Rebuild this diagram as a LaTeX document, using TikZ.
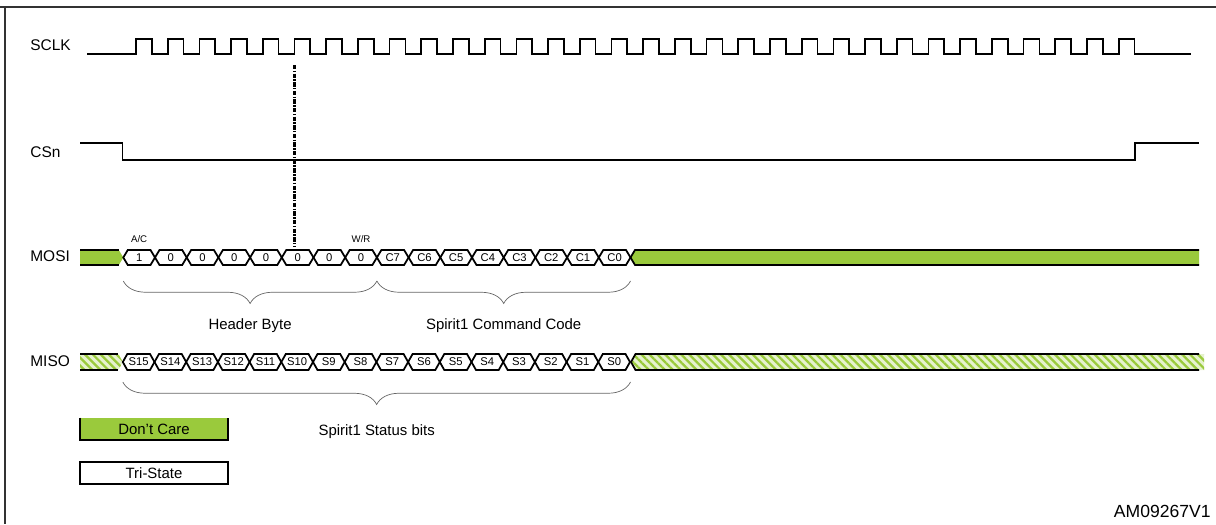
\documentclass[tikz,border=0pt]{standalone}
\usepackage{fontspec}
\setmainfont{Liberation Sans}
\usetikzlibrary{positioning,decorations.pathreplacing,patterns.meta}
\definecolor{dcgreen}{RGB}{154,202,60}

\begin{document}
\begin{tikzpicture}[x=0.02cm,y=-0.02cm,
 sig/.style={line width=1pt,line join=miter},
 siglabel/.style={font=\fontsize{8.8}{10}\selectfont,anchor=west,inner sep=0pt},
 bitlabel/.style={font=\fontsize{6.4}{7}\selectfont,inner sep=0pt},
 toplabel/.style={font=\fontsize{5.5}{6}\selectfont,inner sep=0pt},
 grouplabel/.style={font=\fontsize{8.5}{10}\selectfont},
 bracegroup/.style={draw=black!60,thin,decorate,decoration={brace,mirror,amplitude=0.45cm}},
 dontcare/.style={fill=dcgreen},
 hatched/.style={fill=dcgreen!25,postaction={pattern={Lines[angle=-45,distance=3.2pt,line width=1.3pt]},pattern color=dcgreen}},
 legendbox/.style={minimum width=2.96cm,minimum height=0.44cm,inner sep=0pt,font=\fontsize{8.5}{10}\selectfont},
 marker/.style={line width=1.6pt,dash pattern=on 2.5pt off 0.8pt on 0.8pt off 0.8pt}]

 \useasboundingbox (0,0) rectangle (1216,524);
 \draw[black!80,line width=0.6pt] (0,7) -- (1216,7) (5,7) -- (5,524);

 % SCLK
 \node[siglabel] (sclk) at (30,45) {SCLK};
 \draw[sig] (87,54) \foreach \k in {0,...,31}{ -- ({136+31.7*\k},54) -- ({136+31.7*\k},39)
   -- ({151.8+31.7*\k},39) -- ({151.8+31.7*\k},54)} -- (1191,54);

 % CSn
 \node[siglabel] (csn) at (30,152) {CSn};
 \draw[sig] (80,143) -- (122.5,143) -- (122.5,160) -- (1135,160) -- (1135,143) -- (1199,143);

 % MOSI
 \node[siglabel] (mosi) at (30,256) {MOSI};
 \fill[dontcare] (80,250) -- (118.8,250) -- (123.3,257.5) -- (118.8,265) -- (80,265) -- cycle;
 \draw[sig] (80,250) -- (118.8,250) (80,265) -- (118.8,265);
 \fill[dontcare] (630.5,257.5) -- (635,250) -- (1199,250) -- (1199,265) -- (635,265) -- cycle;
 \draw[sig] (1199,250) -- (635,250) -- (630.5,257.5) -- (635,265) -- (1199,265);
 \foreach \t [count=\i from 0] in {1,0,0,0,0,0,0,0,C7,C6,C5,C4,C3,C2,C1,C0}{
   \pgfmathsetmacro\xa{123.3+31.7*\i}
   \draw[sig] (\xa,257.5) -- ++(4.5,-7.5) -- ++(22.7,0) -- ++(4.5,7.5)
     -- ++(-4.5,7.5) -- ++(-22.7,0) -- cycle;
   \node[bitlabel] (m\i) at (\xa+15.85,257.5) {\t};
 }
 \node[toplabel,above=0.2cm of m0] (ac) {A/C};
 \node[toplabel,above=0.2cm of m7] (wr) {W/R};

 % MISO
 \node[siglabel] (miso) at (30,361) {MISO};
 \path[hatched] (80,354) -- (118.3,354) -- (122.8,362) -- (118.3,370) -- (80,370) -- cycle;
 \draw[sig] (80,354) -- (118.3,354) (80,370) -- (118.3,370);
 \path[hatched] (631,362) -- (635.5,354) -- (1204,354) -- (1204,370) -- (635.5,370) -- cycle;
 \draw[sig] (1199,354) -- (635.5,354) -- (631,362) -- (635.5,370) -- (1199,370);
 \foreach \t [count=\i from 0] in {S15,S14,S13,S12,S11,S10,S9,S8,S7,S6,S5,S4,S3,S2,S1,S0}{
   \pgfmathsetmacro\xa{122.8+31.7*\i}
   \draw[sig] (\xa,362) -- ++(4.5,-8) -- ++(22.7,0) -- ++(4.5,8)
     -- ++(-4.5,8) -- ++(-22.7,0) -- cycle;
   \node[bitlabel] (s\i) at (\xa+15.85,362) {\t};
 }

 % braces
 \draw[bracegroup] (123.3,281) -- (376.9,281)
   node[midway,below=0.62cm,grouplabel] (hdr) {Header Byte};
 \draw[bracegroup] (376.9,281) -- (630.5,281)
   node[midway,below=0.62cm,grouplabel] (cmd) {Spirit1 Command Code};
 \draw[bracegroup] (122.8,382) -- (630.5,382)
   node[midway,below=0.72cm,grouplabel] (stat) {Spirit1 Status bits};

 % sample marker
 \draw[marker] (294.5,65) -- (294.5,247);

 % legend
 \node[legendbox,dontcare] (dc) at (154,429) {Don't Care};
 \draw[line width=1.2pt] (dc.north west) -- (dc.south west) -- (dc.south east) -- (dc.north east);
 \node[legendbox,draw,line width=1.2pt,below=0.42cm of dc] (ts) {Tri-State};

 \node[anchor=east,inner sep=0pt,font=\fontsize{10}{12}\selectfont] (fig) at (1211,511) {AM09267V1};
\end{tikzpicture}
\end{document}
